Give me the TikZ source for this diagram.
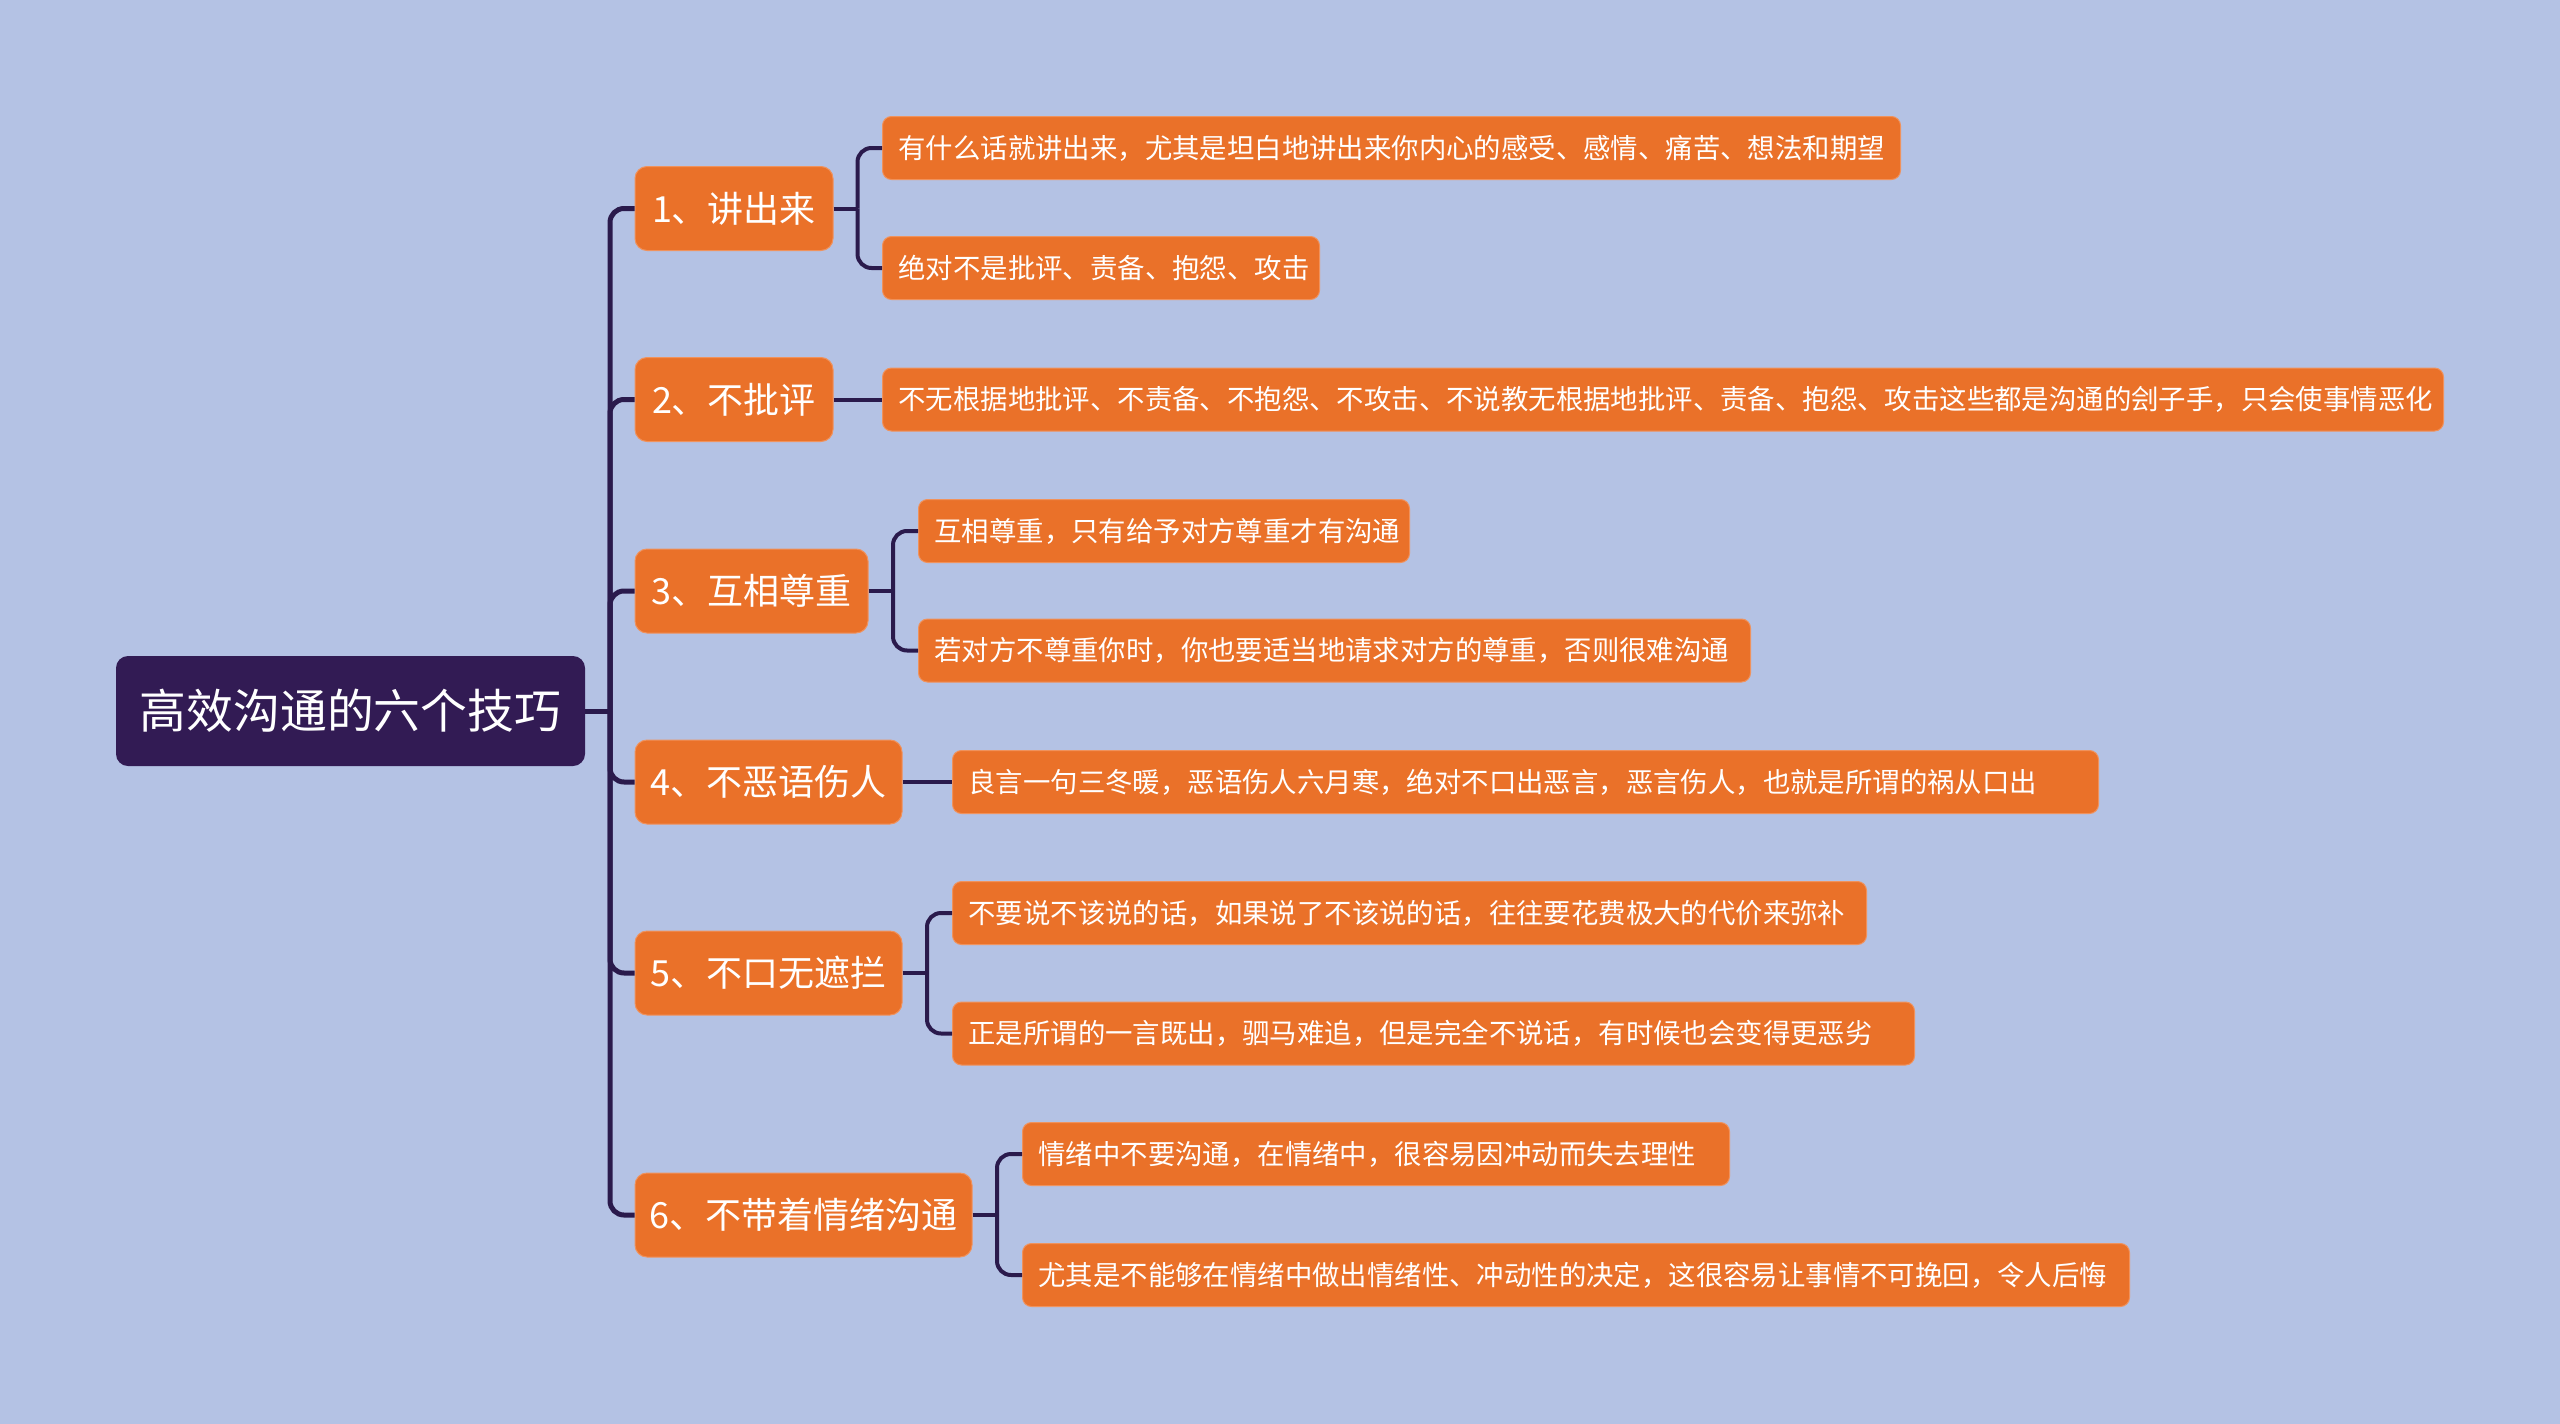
\documentclass[tikz,border=0pt]{standalone}
\usepackage{fontspec}
\newfontfamily\cjk{Noto Sans CJK SC}
\definecolor{bgc}{HTML}{B4C2E4}
\definecolor{rootc}{HTML}{321B54}
\definecolor{orc}{HTML}{EA7129}
\definecolor{orb}{HTML}{F0925C}
\definecolor{linec}{HTML}{2A1A4C}
\newcommand\lefttxt[2]{\makebox[#1][l]{#2}}
\begin{document}
\begin{tikzpicture}[x=0.5pt,y=-0.5pt,
  rootbox/.style={fill=rootc, rounded corners=6pt, text=white, inner sep=0pt,
    font=\cjk\fontsize{23.4}{28}\selectfont, minimum width=234.5pt, minimum height=55pt},
  lonebox/.style={fill=orc, draw=orb, line width=0.5pt, rounded corners=6pt, text=white, inner sep=0pt,
    font=\cjk\fontsize{18}{22}\selectfont, minimum height=42pt},
  ltwobox/.style={fill=orc, draw=orb, line width=0.5pt, rounded corners=4.5pt, text=white,
    inner xsep=8pt, inner ysep=0pt, anchor=west,
    font=\cjk\fontsize{13.7}{16}\selectfont, minimum height=31.5pt},
  trunk/.style={draw=linec, line width=2.5pt, rounded corners=7pt},
  twig/.style={draw=linec, line width=2pt, rounded corners=7pt}]
\fill[bgc] (0,0) rectangle (2560,1424);
\useasboundingbox (0,0) rectangle (2560,1424);

\node[rootbox] (root) at (350.5,711) {高效沟通的六个技巧};

\node[lonebox, minimum width=99pt]    (n1) at (734,208.5) {1、讲出来};
\node[lonebox, minimum width=99pt]    (n2) at (734,399.5) {2、不批评};
\node[lonebox, minimum width=116.5pt] (n3) at (751.5,591) {3、互相尊重};
\node[lonebox, minimum width=133.5pt] (n4) at (768.5,782) {4、不恶语伤人};
\node[lonebox, minimum width=133.5pt] (n5) at (768.5,973) {5、不口无遮拦};
\node[lonebox, minimum width=168.5pt] (n6) at (803.5,1215) {6、不带着情绪沟通};

\node[ltwobox] (a1) at (882,148) {\lefttxt{493pt}{有什么话就讲出来，尤其是坦白地讲出来你内心的感受、感情、痛苦、想法和期望}};
\node[ltwobox] (b1) at (882,268) {\lefttxt{202.5pt}{绝对不是批评、责备、抱怨、攻击}};
\node[ltwobox] (a2) at (882,399.5) {\lefttxt{764.5pt}{不无根据地批评、不责备、不抱怨、不攻击、不说教无根据地批评、责备、抱怨、攻击这些都是沟通的刽子手，只会使事情恶化}};
\node[ltwobox] (a3) at (918,531) {\lefttxt{229.5pt}{互相尊重，只有给予对方尊重才有沟通}};
\node[ltwobox] (b3) at (918,650.5) {\lefttxt{400pt}{若对方不尊重你时，你也要适当地请求对方的尊重，否则很难沟通}};
\node[ltwobox] (a4) at (952,782) {\lefttxt{557pt}{良言一句三冬暖，恶语伤人六月寒，绝对不口出恶言，恶言伤人，也就是所谓的祸从口出}};
\node[ltwobox] (a5) at (952,913) {\lefttxt{441pt}{不要说不该说的话，如果说了不该说的话，往往要花费极大的代价来弥补}};
\node[ltwobox] (b5) at (952,1033.5) {\lefttxt{465pt}{正是所谓的一言既出，驷马难追，但是完全不说话，有时候也会变得更恶劣}};
\node[ltwobox] (a6) at (1022,1154) {\lefttxt{337.5pt}{情绪中不要沟通，在情绪中，很容易因冲动而失去理性}};
\node[ltwobox] (b6) at (1022,1275) {\lefttxt{537.5pt}{尤其是不能够在情绪中做出情绪性、冲动性的决定，这很容易让事情不可挽回，令人后悔}};

% trunk
\coordinate (tr) at (610,711);
\draw[trunk] (root.east) -- (tr);
\foreach \n in {n1,n2,n3,n4,n5,n6} {\draw[trunk] (tr) |- (\n.west);}

% level-1 to level-2
\coordinate (j1) at (857.5,208.5);
\draw[twig] (n1.east) -- (j1);
\draw[twig] (j1) |- (a1.west);
\draw[twig] (j1) |- (b1.west);
\draw[twig] (n2.east) -- (a2.west);
\coordinate (j3) at (893,591);
\draw[twig] (n3.east) -- (j3);
\draw[twig] (j3) |- (a3.west);
\draw[twig] (j3) |- (b3.west);
\draw[twig] (n4.east) -- (a4.west);
\coordinate (j5) at (927,973);
\draw[twig] (n5.east) -- (j5);
\draw[twig] (j5) |- (a5.west);
\draw[twig] (j5) |- (b5.west);
\coordinate (j6) at (997,1215);
\draw[twig] (n6.east) -- (j6);
\draw[twig] (j6) |- (a6.west);
\draw[twig] (j6) |- (b6.west);
\end{tikzpicture}
\end{document}
